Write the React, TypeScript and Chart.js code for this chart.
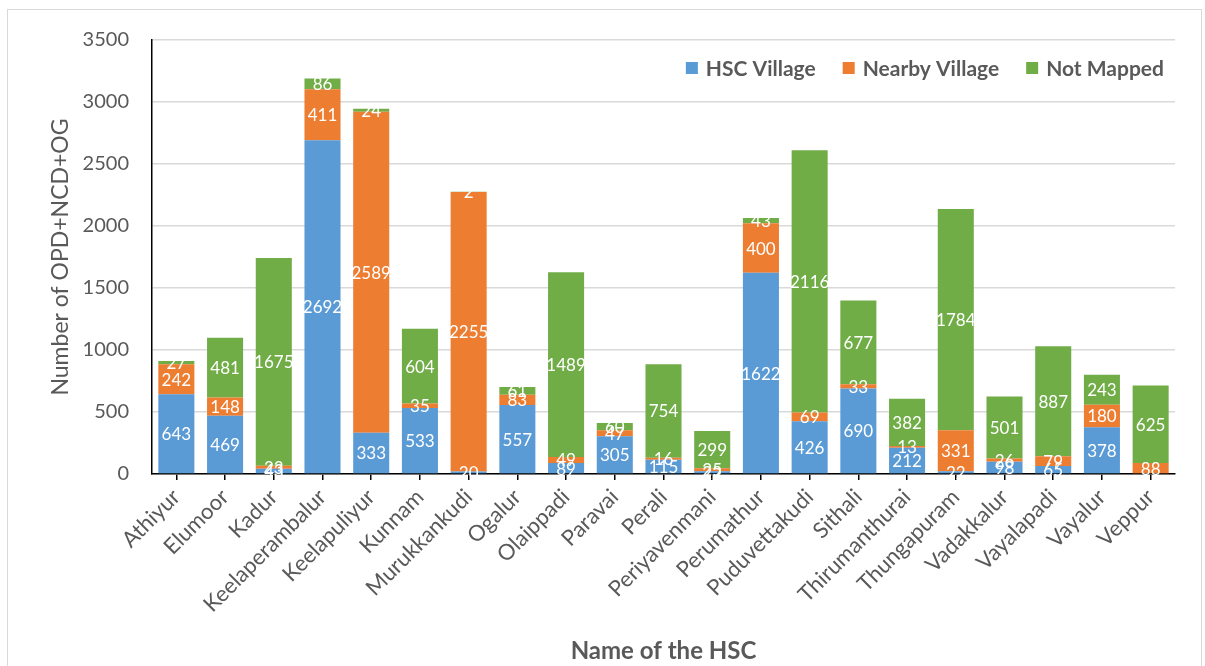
import React, { useEffect, useRef } from "react";
import { Chart, registerables } from "chart.js";

Chart.register(...registerables);

const categories = [
  "Athiyur", "Elumoor", "Kadur", "Keelaperambalur", "Keelapuliyur", "Kunnam",
  "Murukkankudi", "Ogalur", "Olaippadi", "Paravai", "Perali", "Periyavenmani",
  "Perumathur", "Puduvettakudi", "Sithali", "Thirumanthurai", "Thungapuram",
  "Vadakkalur", "Vayalapadi", "Vayalur", "Veppur",
];
const hscVillage = [643, 469, 43, 2692, 333, 533, 20, 557, 89, 305, 115, 22, 1622, 426, 690, 212, 22, 98, 65, 378, 0];
const nearbyVillage = [242, 148, 23, 411, 2589, 35, 2255, 83, 49, 47, 16, 25, 400, 69, 33, 13, 331, 26, 79, 180, 88];
const notMapped = [27, 481, 1675, 86, 24, 604, 2, 61, 1489, 60, 754, 299, 43, 2116, 677, 382, 1784, 501, 887, 243, 625];
const seriesNames = ["HSC Village", "Nearby Village", "Not Mapped"];
const seriesColors = ["#5B9BD5", "#ED7D31", "#70AD47"];
const yMax = 3500;
const yStep = 500;

const FONT = "Lato, 'Open Sans', sans-serif";
const TEXT = "#595959";

const segLabels = {
  id: "segLabels",
  afterDatasetsDraw(chart: any) {
    const ctx = chart.ctx;
    ctx.save();
    ctx.font = `17px ${FONT}`;
    ctx.fillStyle = "#ffffff";
    ctx.textAlign = "center";
    ctx.textBaseline = "middle";
    chart.data.datasets.forEach((ds: any, i: number) => {
      const meta = chart.getDatasetMeta(i);
      meta.data.forEach((bar: any, j: number) => {
        const v = ds.data[j];
        if (!v) return;
        const p = bar.getProps(["x", "y", "base"], true);
        ctx.fillText(String(v), p.x, (p.y + p.base) / 2 + 1);
      });
    });
    ctx.restore();
  },
};

const insideLegend = {
  id: "insideLegend",
  afterDraw(chart: any) {
    const ctx = chart.ctx;
    ctx.save();
    ctx.font = `bold 21px ${FONT}`;
    ctx.textBaseline = "middle";
    const box = 12;
    const gapBox = 8;
    const gapItem = 27;
    const widths = chart.data.datasets.map((d: any) => ctx.measureText(d.label).width);
    const total = widths.reduce((a: number, w: number) => a + box + gapBox + w, 0) + gapItem * (widths.length - 1);
    let x = 1164 - total;
    const y = 68;
    chart.data.datasets.forEach((d: any, i: number) => {
      ctx.fillStyle = d.backgroundColor;
      ctx.fillRect(x, y - box / 2, box, box);
      x += box + gapBox;
      ctx.fillStyle = TEXT;
      ctx.fillText(d.label, x, y + 1);
      x += widths[i] + gapItem;
    });
    ctx.restore();
  },
};

export default function App() {
  const ref = useRef<HTMLCanvasElement | null>(null);

  useEffect(() => {
    if (!ref.current) return;
    const seriesData = [hscVillage, nearbyVillage, notMapped];
    const chart = new Chart(ref.current, {
      type: "bar",
      data: {
        labels: categories,
        datasets: seriesData.map((d, i) => ({
          label: seriesNames[i],
          data: d,
          backgroundColor: seriesColors[i],
          borderWidth: 0,
          categoryPercentage: 1,
          barPercentage: 0.74,
        })),
      },
      options: {
        animation: false,
        responsive: false,
        maintainAspectRatio: false,
        layout: { padding: { left: 0, right: 30, top: 40, bottom: 0 } },
        plugins: {
          legend: { display: false },
          tooltip: { enabled: false },
        },
        scales: {
          x: {
            stacked: true,
            afterFit(scale: any) {
              scale.height = 192;
            },
            grid: {
              display: true,
              drawOnChartArea: false,
              drawTicks: true,
              tickLength: 6,
              offset: false,
              color: "#000000",
              lineWidth: 1.5,
            },
            border: { display: true, color: "#000000", width: 1.5 },
            ticks: {
              maxRotation: 45,
              minRotation: 45,
              autoSkip: false,
              padding: 4,
              color: TEXT,
              font: { family: FONT, size: 22 },
            },
            title: {
              display: true,
              text: "Name of the HSC",
              color: TEXT,
              font: { family: FONT, size: 24, weight: "bold" },
              padding: { top: 0, bottom: 0 },
            },
          },
          y: {
            stacked: true,
            min: 0,
            max: yMax,
            afterFit(scale: any) {
              scale.width = 152;
            },
            grid: {
              color: "#d9d9d9",
              lineWidth: 1.5,
              drawTicks: false,
            },
            border: { display: true, color: "#000000", width: 1.5 },
            ticks: {
              stepSize: yStep,
              padding: 23,
              color: TEXT,
              font: { family: FONT, size: 20 },
              callback: (v: any) => String(v),
            },
            title: {
              display: true,
              text: "Number of OPD+NCD+OG",
              color: TEXT,
              font: { family: FONT, size: 23 },
              padding: { top: 47, bottom: 0 },
            },
          },
        },
      } as any,
      plugins: [segLabels, insideLegend],
    });
    return () => chart.destroy();
  }, []);

  return (
    <div
      style={{
        position: "fixed",
        left: 0,
        top: 0,
        width: 1205,
        height: 666,
        overflow: "hidden",
        background: "#ffffff",
      }}
    >
      <div
        style={{
          position: "absolute",
          left: 7,
          top: 9,
          width: 1195,
          height: 700,
          border: "1px solid #d9d9d9",
          boxSizing: "border-box",
        }}
      />
      <canvas
        ref={ref}
        width={1205}
        height={666}
        style={{ position: "absolute", left: 0, top: 0, width: 1205, height: 666 }}
      />
    </div>
  );
}
